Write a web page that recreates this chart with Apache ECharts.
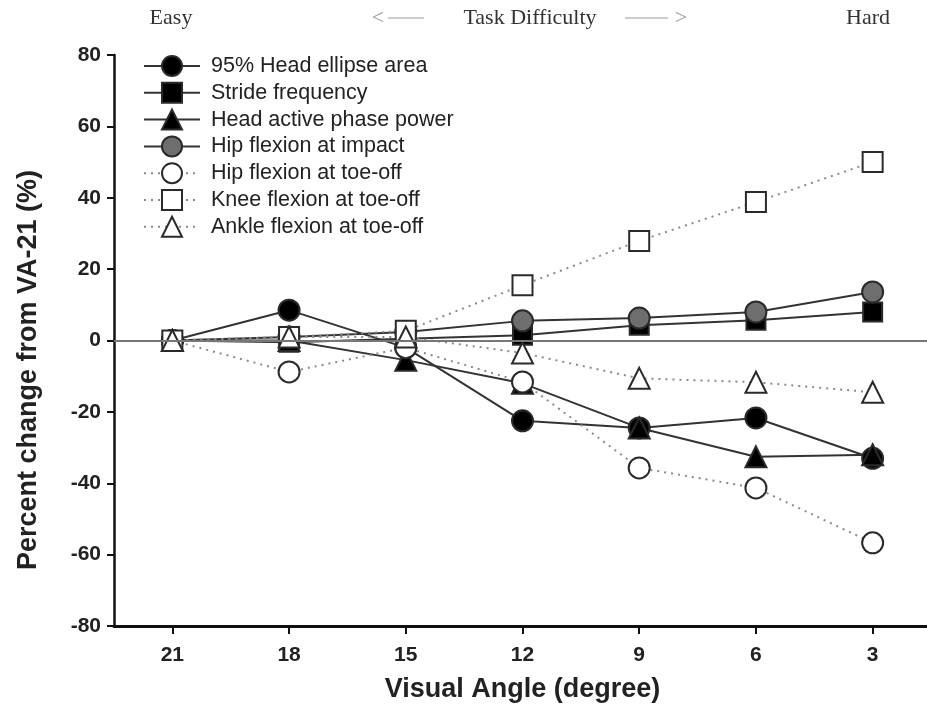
<!DOCTYPE html>
<html>
<head>
<meta charset="utf-8">
<script src="https://cdn.jsdelivr.net/npm/echarts@6/dist/echarts.min.js"></script>
<style>
  html, body { margin: 0; padding: 0; background: #fff; }
  #chart { width: 927px; height: 717px; }
</style>
</head>
<body>
<div id="chart"></div>
<script>
// Visual angle conditions, easiest (21°) to hardest (3°)
const angles = ['21', '18', '15', '12', '9', '6', '3'];

// Percent change from the VA-21 condition
const headEllipseArea   = [0, 8.5, -2, -22.5, -24.5, -21.7, -33];
const strideFrequency   = [0, -0.5, 0.5, 1.5, 4.3, 5.7, 8];
const headActivePower   = [0, 0, -5.5, -12, -24.5, -32.6, -32];
const hipFlexImpact     = [0, 1, 2.4, 5.5, 6.3, 8, 13.6];
const hipFlexToeOff     = [0, -8.8, -2, -11.6, -35.7, -41.3, -56.7];
const kneeFlexToeOff    = [0, 1, 2.7, 15.5, 27.9, 38.8, 50];
const ankleFlexToeOff   = [0, 1, 1, -3.5, -10.6, -11.7, -14.5];

const yTicks = { min: -80, max: 80, step: 20 };

const SANS = '"Liberation Sans", Arial, sans-serif';
const SERIF = '"Liberation Serif", "DejaVu Serif", serif';

const SOLID = { color: '#333', width: 2, type: 'solid' };
const DOTTED = { color: '#8a8a8a', width: 2, type: [2, 5] };

function makeSeries(name, values, symbol, fill, line, size) {
  return {
    name: name,
    type: 'line',
    data: values,
    symbol: symbol,
    symbolSize: size,
    showSymbol: true,
    lineStyle: line,
    itemStyle: { color: fill, borderColor: '#2a2a2a', borderWidth: 2 },
    emphasis: { disabled: true },
    animation: false
  };
}

const series = [
  // horizontal reference line at zero change
  {
    type: 'line', data: [], silent: true, animation: false,
    markLine: {
      silent: true, symbol: ['none', 'none'], animation: false,
      label: { show: false },
      lineStyle: { color: '#777', width: 2, type: 'solid' },
      data: [{ yAxis: 0 }]
    }
  },
  makeSeries('95% Head ellipse area', headEllipseArea, 'circle', '#000', SOLID, 21),
  makeSeries('Stride frequency', strideFrequency, 'rect', '#000', SOLID, 19),
  makeSeries('Head active phase power', headActivePower, 'triangle', '#000', SOLID, 21),
  makeSeries('Hip flexion at impact', hipFlexImpact, 'circle', '#6e6e6e', SOLID, 21),
  makeSeries('Hip flexion at toe-off', hipFlexToeOff, 'circle', '#fff', DOTTED, 21),
  makeSeries('Knee flexion at toe-off', kneeFlexToeOff, 'rect', '#fff', DOTTED, 20),
  makeSeries('Ankle flexion at toe-off', ankleFlexToeOff, 'triangle', '#fff', DOTTED, 21)
];

const chart = echarts.init(document.getElementById('chart'), null, { renderer: 'canvas' });

function topText(text, x, color) {
  return {
    type: 'text', x: x, y: 18,
    style: {
      text: text, fontFamily: SERIF, fontSize: 22, fill: color || '#333',
      textAlign: 'center', textVerticalAlign: 'middle', align: 'center', verticalAlign: 'middle'
    }
  };
}

chart.setOption({
  backgroundColor: '#fff',
  animation: false,
  grid: { left: 114, right: -4, top: 55, bottom: 91, containLabel: false, outerBoundsMode: 'none' },
  legend: {
    orient: 'vertical',
    left: 143, top: 55,
    padding: 0,
    itemWidth: 56, itemHeight: 25, itemGap: 4.8,
    selectedMode: false,
    data: series.slice(1).map(s => s.name),
    textStyle: { fontFamily: SANS, fontSize: 21.5, color: '#222', padding: [0, 0, 0, 6] }
  },
  xAxis: {
    type: 'category',
    data: angles,
    boundaryGap: true,
    name: 'Visual Angle (degree)',
    nameLocation: 'middle',
    nameGap: 50,
    nameTextStyle: { fontFamily: SANS, fontSize: 27, fontWeight: 'bold', color: '#222' },
    axisLine: { show: true, onZero: false, lineStyle: { color: '#111', width: 3 } },
    axisTick: { show: true, alignWithLabel: true, length: 8, lineStyle: { color: '#111', width: 2 } },
    axisLabel: { margin: 19, fontFamily: SANS, fontSize: 21, fontWeight: 'bold', color: '#222' },
    splitLine: { show: false }
  },
  yAxis: {
    type: 'value',
    min: yTicks.min, max: yTicks.max, interval: yTicks.step,
    axisLine: { show: true, onZero: false, lineStyle: { color: '#111', width: 2.5 } },
    axisTick: { show: true, length: 7, lineStyle: { color: '#111', width: 2 } },
    axisLabel: { margin: 13, fontFamily: SANS, fontSize: 21, fontWeight: 'bold', color: '#222' },
    splitLine: { show: false }
  },
  graphic: [
    topText('Easy', 171),
    topText('<', 378, '#999'),
    { type: 'line', shape: { x1: 388, y1: 18, x2: 424, y2: 18 }, style: { stroke: '#bbb', lineWidth: 1.5 } },
    topText('Task Difficulty', 530),
    { type: 'line', shape: { x1: 625, y1: 18, x2: 668, y2: 18 }, style: { stroke: '#bbb', lineWidth: 1.5 } },
    topText('>', 681, '#999'),
    topText('Hard', 868),
    // y-axis title
    {
      type: 'text', x: 29, y: 370, rotation: Math.PI / 2,
      style: {
        text: 'Percent change from VA-21 (%)', fontFamily: SANS, fontSize: 27, fontWeight: 'bold', fill: '#222',
        textAlign: 'center', textVerticalAlign: 'middle', align: 'center', verticalAlign: 'middle'
      }
    }
  ],
  series: series
});
</script>
</body>
</html>
